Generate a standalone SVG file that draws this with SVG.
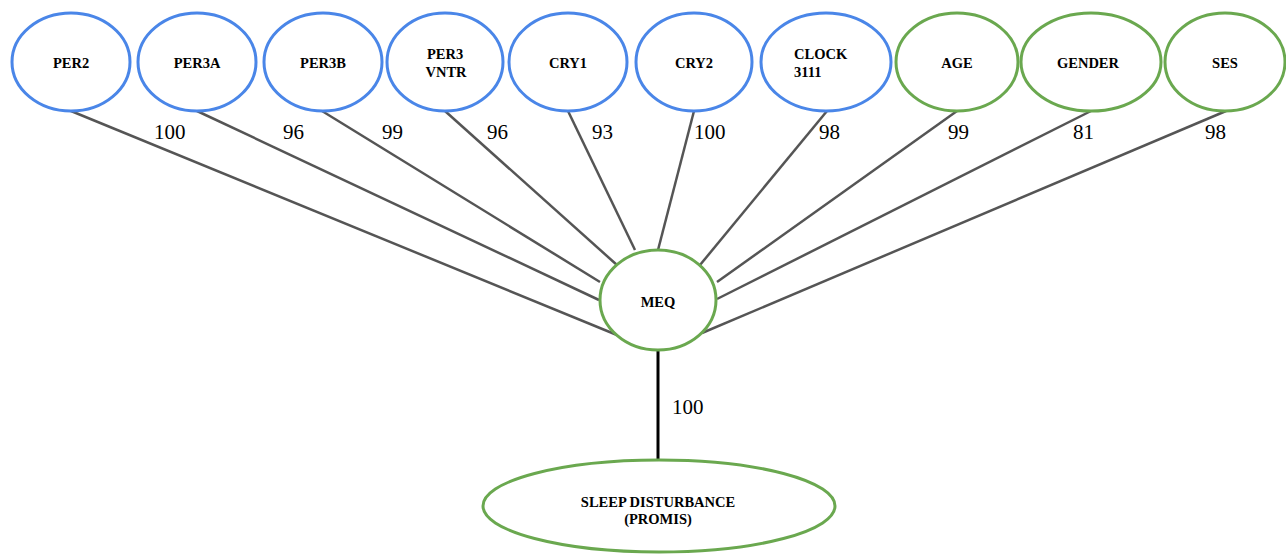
<svg xmlns="http://www.w3.org/2000/svg" width="1286" height="554" viewBox="0 0 1286 554">
<style>
.blue{fill:#fff;stroke:#4a86e8;stroke-width:3}
.green{fill:#fff;stroke:#6aa84f;stroke-width:3}
.nt{font-family:"Liberation Serif",serif;font-weight:bold;font-size:14.5px;fill:#000}
.c{text-anchor:middle}
.lbl{font-family:"Liberation Serif",serif;font-size:21px;fill:#000}
.edge{stroke:#555;stroke-width:2.5;fill:none}
</style>
<rect width="1286" height="554" fill="#fff"/>
<g id="connectors">
<line class="edge" x1="71" y1="111" x2="617" y2="335"/>
<line class="edge" x1="197" y1="111" x2="599" y2="300"/>
<line class="edge" x1="322" y1="111" x2="600" y2="282"/>
<line class="edge" x1="445" y1="111" x2="617" y2="265"/>
<line class="edge" x1="568" y1="111" x2="635" y2="250"/>
<line class="edge" x1="694" y1="111" x2="658" y2="250"/>
<line class="edge" x1="827" y1="111" x2="700" y2="265"/>
<line class="edge" x1="957" y1="111" x2="717" y2="282"/>
<line class="edge" x1="1091" y1="111" x2="717" y2="299"/>
<line class="edge" x1="1226" y1="111" x2="702" y2="333"/>
<line x1="658" y1="350" x2="658" y2="460" stroke="#000" stroke-width="3"/>
<text class="lbl" x="154" y="139">100</text>
<text class="lbl" x="283" y="139">96</text>
<text class="lbl" x="382" y="139">99</text>
<text class="lbl" x="487" y="139">96</text>
<text class="lbl" x="592" y="139">93</text>
<text class="lbl" x="694" y="139">100</text>
<text class="lbl" x="819" y="139">98</text>
<text class="lbl" x="948" y="139">99</text>
<text class="lbl" x="1073" y="139">81</text>
<text class="lbl" x="1205" y="139">98</text>
<text class="lbl" x="672" y="414" font-size="22">100</text>
</g>
<g id="per2"><ellipse class="blue" cx="71" cy="62" rx="59" ry="49"/><text class="nt c" x="71" y="68">PER2</text></g>
<g id="per3a"><ellipse class="blue" cx="197" cy="62" rx="59" ry="49"/><text class="nt c" x="197" y="68">PER3A</text></g>
<g id="per3b"><ellipse class="blue" cx="323" cy="62" rx="59" ry="49"/><text class="nt c" x="323" y="68">PER3B</text></g>
<g id="per3vntr"><ellipse class="blue" cx="445" cy="62" rx="58" ry="49"/><text class="nt c" x="445" y="59">PER3</text><text class="nt c" x="446" y="77">VNTR</text></g>
<g id="cry1"><ellipse class="blue" cx="568" cy="62" rx="59" ry="49"/><text class="nt c" x="568" y="68">CRY1</text></g>
<g id="cry2"><ellipse class="blue" cx="694" cy="62" rx="58" ry="49"/><text class="nt c" x="694" y="68">CRY2</text></g>
<g id="clock"><ellipse class="blue" cx="826" cy="62" rx="65" ry="49"/><text class="nt" x="794" y="59">CLOCK</text><text class="nt" x="794" y="77">3111</text></g>
<g id="age"><ellipse class="green" cx="957" cy="62" rx="61" ry="49"/><text class="nt c" x="957" y="68">AGE</text></g>
<g id="gender"><ellipse class="green" cx="1091" cy="62" rx="70" ry="49"/><text class="nt c" x="1088" y="68">GENDER</text></g>
<g id="ses"><ellipse class="green" cx="1225" cy="62" rx="60" ry="49"/><text class="nt c" x="1225" y="68">SES</text></g>
<g id="meq"><ellipse class="green" cx="658" cy="300" rx="58" ry="50"/><text class="nt c" x="658" y="307">MEQ</text></g>
<g id="sleep"><ellipse class="green" cx="659" cy="506" rx="176" ry="46"/><text class="nt c" x="658" y="507">SLEEP DISTURBANCE</text><text class="nt c" x="658" y="524">(PROMIS)</text></g>
</svg>
